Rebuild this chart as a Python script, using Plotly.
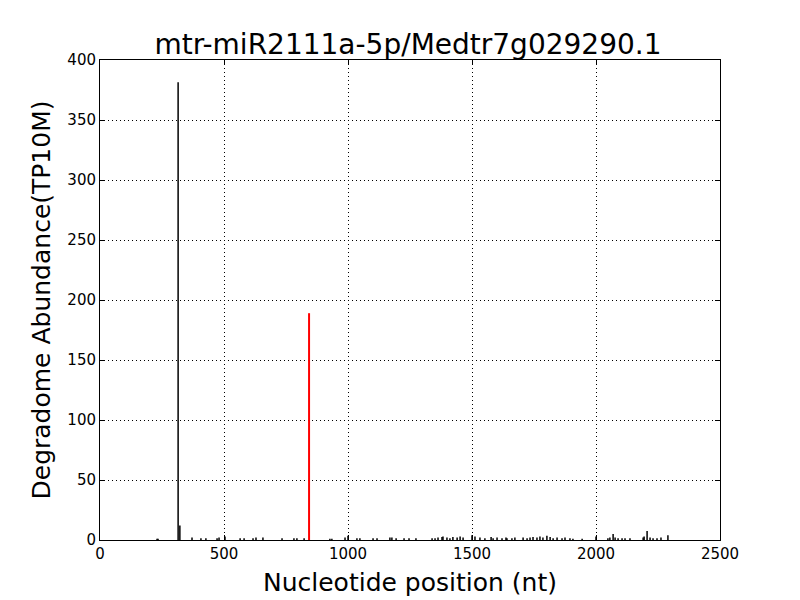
import plotly.graph_objects as go

title = "mtr-miR2111a-5p/Medtr7g029290.1"

# background degradome reads: positions (nt) and abundance (TP10M)
pos = [230, 234, 315, 322, 371, 407, 427, 472, 480, 504, 565, 581, 617, 629, 657, 734, 782, 794, 823,
       927, 935, 988, 1000, 1036, 1048, 1101, 1117, 1169, 1177, 1194, 1226, 1246, 1274,
       1339, 1351, 1363, 1379, 1383, 1399, 1411, 1423, 1440, 1452, 1464,
       1500, 1512, 1532, 1552, 1577, 1585, 1601, 1621, 1637, 1641, 1661, 1673, 1706, 1722, 1734,
       1746, 1762, 1774, 1786, 1802, 1815, 1827, 1843, 1863, 1875, 1895, 1907, 1944, 2000,
       2048, 2056, 2069, 2077, 2089, 2105, 2117, 2137, 2190, 2194, 2206, 2218, 2230, 2246, 2262, 2290]
abund = [1, 1, 381.5, 12, 2, 1.5, 1.5, 1.5, 2, 3, 1.5, 1.5, 1.5, 2, 2, 1.5, 1.5, 1.5, 1.5,
         1, 1, 2, 3.5, 1.5, 1.5, 1.5, 1.5, 2, 2, 1.5, 1.5, 1.5, 1.5,
         1.5, 1.5, 2, 2.5, 3, 2, 1.5, 2.5, 2, 3, 2,
         4, 3, 2, 1.5, 2.5, 1.5, 2, 1.5, 2, 1.5, 1.5, 2, 2, 1.5, 2,
         2.5, 2, 3, 2, 3.5, 2.5, 1.5, 2, 1.5, 2, 1.5, 1, 1, 3,
         1.5, 2, 5, 2, 1.5, 1.5, 1.5, 1.5, 2, 3, 7.5, 2, 1.5, 1.5, 2, 4]

# miRNA cleavage site
site_pos = [843]
site_abund = [189]

def segs(xs, ys):
    X, Y = [], []
    for x, y in zip(xs, ys):
        X += [x, x, None]
        Y += [0, y, None]
    return X, Y

bx, by = segs(pos, abund)
rx, ry = segs(site_pos, site_abund)

fig = go.Figure()
fig.add_trace(go.Scatter(x=bx, y=by, mode="lines", line=dict(color="black", width=1.5),
                         hoverinfo="skip", showlegend=False))
fig.add_trace(go.Scatter(x=rx, y=ry, mode="lines", line=dict(color="red", width=2),
                         hoverinfo="skip", showlegend=False))

axis_common = dict(showline=True, linecolor="black", linewidth=1, mirror="ticks",
                   ticks="inside", ticklen=5, tickcolor="black",
                   showgrid=True, gridcolor="black", griddash="1px,3px", gridwidth=1,
                   zeroline=False, tickfont=dict(size=15, color="black"))

fig.update_layout(
    width=800, height=600,
    margin=dict(l=92, r=88, t=52, b=68),
    paper_bgcolor="white", plot_bgcolor="white",
    font=dict(family="DejaVu Sans", color="black"),
    title=dict(text=title, x=0.5, xanchor="center", y=1, yref="paper", yanchor="bottom",
               pad=dict(b=6), font=dict(size=28, color="black")),
    xaxis=dict(range=[0, 2500], tickvals=[0, 500, 1000, 1500, 2000, 2500],
               title=dict(text="Nucleotide position (nt)", font=dict(size=25), standoff=11),
               **axis_common),
    yaxis=dict(range=[0, 400], tickvals=[0, 50, 100, 150, 200, 250, 300, 350, 400],
               title=dict(text="Degradome Abundance(TP10M)", font=dict(size=25), standoff=9),
               **axis_common),
)

fig.write_html("out.html")
